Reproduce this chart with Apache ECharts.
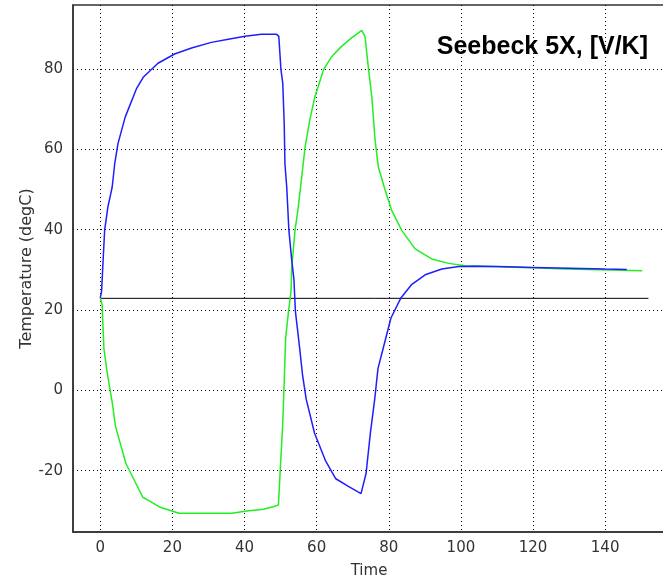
<!DOCTYPE html>
<html>
<head>
<meta charset="utf-8">
<script src="https://cdn.jsdelivr.net/npm/echarts@6/dist/echarts.min.js"></script>
<style>
  html, body { margin: 0; padding: 0; background: #fff; }
  #main { width: 663px; height: 579px; }
</style>
</head>
<body>
<div id="main"></div>
<script>
// data
var xTicks = [0, 20, 40, 60, 80, 100, 120, 140]
var yTicks = [-20, 0, 20, 40, 60, 80]

var blueTime = [0, 0.36, 0.75, 1.2, 2.1, 3.3, 4.0, 4.9, 6.9, 10, 11.9, 16, 20.6, 25.3, 30.8, 35.5, 40.1, 44.7, 48.9, 49.5,
  50.1, 50.6, 51.0, 51.2, 51.7, 52.3, 53.1, 53.7, 54.1, 55.3, 56.1, 57.1, 59.4, 62.4, 65.3, 68.8, 72.3, 73.7, 74.9, 76.1,
  77.0, 78.2, 80.6, 83.3, 86.4, 90.1, 94.7, 99.4, 104, 110, 120, 130, 140, 146]
var blueTemp = [23, 24.7, 31.8, 39.8, 45.6, 50.6, 56.4, 61.4, 68, 75, 77.9, 81.4, 83.7, 85.2, 86.6, 87.4, 88.1, 88.6, 88.6, 88.1,
  79.8, 76.4, 66.4, 56.4, 50.6, 39.8, 32.3, 27.6, 19.7, 10.4, 3.7, -2.2, -10.6, -17.4, -22, -23.9, -25.7, -20.7, -10.6, -2.2,
  5.4, 9.6, 18, 22.9, 26.4, 28.75, 30.2, 30.8, 30.9, 30.8, 30.6, 30.4, 30.2, 30.1]

var greenTime = [0, 0.5, 1.0, 1.9, 3.3, 4.2, 7.1, 11.8, 13.6, 16.6, 21.8, 36.5, 40.6, 45.3, 48.2, 49.4, 50.0, 50.6, 51.0, 51.4,
  52.1, 52.9, 53.1, 54.0, 54.9, 56.8, 58.1, 59.5, 61.9, 64.2, 66.9, 69.7, 72.5, 73.4, 74.4, 75.3, 76.2, 77.1, 79.0, 80.8,
  83.6, 87.3, 91.9, 96.6, 101.2, 110.5, 119.7, 129, 138.2, 150.3]
var greenTemp = [23, 21.4, 10.4, 4.5, -3, -8.9, -18.2, -26.6, -27.5, -29.1, -30.6, -30.6, -30, -29.6, -28.9, -28.5, -18.2, -8.1, 2, 13,
  18.9, 24.7, 30.6, 39.8, 45.6, 60.6, 67.3, 73, 79.8, 83.1, 85.6, 87.7, 89.6, 88.1, 79.8, 73, 62.3, 55.6, 49.8, 44.8,
  39.8, 35.2, 32.7, 31.6, 31, 30.75, 30.5, 30.2, 30, 29.75]

var refTime = [0, 152]
var refTemp = [22.9, 22.9]

function pairs(xs, ys) {
  return xs.map(function(x, i) { return [x, ys[i]] })
}

var chart = echarts.init(document.getElementById('main'))
var font = 'DejaVu Sans'
var lineSeries = function(name, xs, ys, color, width) {
  return {
    name: name,
    type: 'line',
    data: pairs(xs, ys),
    showSymbol: false,
    animation: false,
    lineStyle: { color: color, width: width },
    itemStyle: { color: color }
  }
}

chart.setOption({
  animation: false,
  title: {
    text: 'Seebeck 5X, [V/K]',
    right: 10,
    top: 30,
    textStyle: { fontFamily: 'Liberation Sans', fontWeight: 'bold', fontSize: 25, color: '#000' }
  },
  grid: {
    left: 73,
    right: -2,
    top: 5,
    bottom: 47,
    outerBoundsMode: 'none',
    show: true,
    borderColor: '#333',
    borderWidth: 1.5
  },
  xAxis: {
    type: 'value',
    min: -7.57,
    max: 156.6,
    name: 'Time',
    nameLocation: 'middle',
    nameGap: 32,
    nameTextStyle: { fontFamily: font, fontSize: 15, color: '#333' },
    axisLine: { show: true, onZero: false, lineStyle: { color: '#333', width: 1.5 } },
    axisTick: { show: false, customValues: xTicks },
    axisLabel: { customValues: xTicks, margin: 9, fontFamily: font, fontSize: 15, color: '#333' },
    splitLine: { show: true, lineStyle: { color: '#000', type: [1, 3], width: 1 } }
  },
  yAxis: {
    type: 'value',
    min: -35.25,
    max: 95.9,
    name: 'Temperature (degC)',
    nameLocation: 'middle',
    nameGap: 38,
    nameMoveOverlap: false,
    nameTextStyle: { fontFamily: font, fontSize: 16, color: '#333' },
    axisLine: { show: true, onZero: false, lineStyle: { color: '#333', width: 1.5 } },
    axisTick: { show: false, customValues: yTicks },
    axisLabel: { customValues: yTicks, margin: 10, fontFamily: font, fontSize: 15, color: '#333' },
    splitLine: { show: true, lineStyle: { color: '#000', type: [1, 3], width: 1 } }
  },
  series: [
    lineSeries('ref', refTime, refTemp, '#000', 1),
    lineSeries('green', greenTime, greenTemp, '#22ee22', 1.5),
    lineSeries('blue', blueTime, blueTemp, '#1e1eff', 1.5)
  ]
})
window.addEventListener('resize', function() {
  chart.resize()
})
</script>
</body>
</html>
